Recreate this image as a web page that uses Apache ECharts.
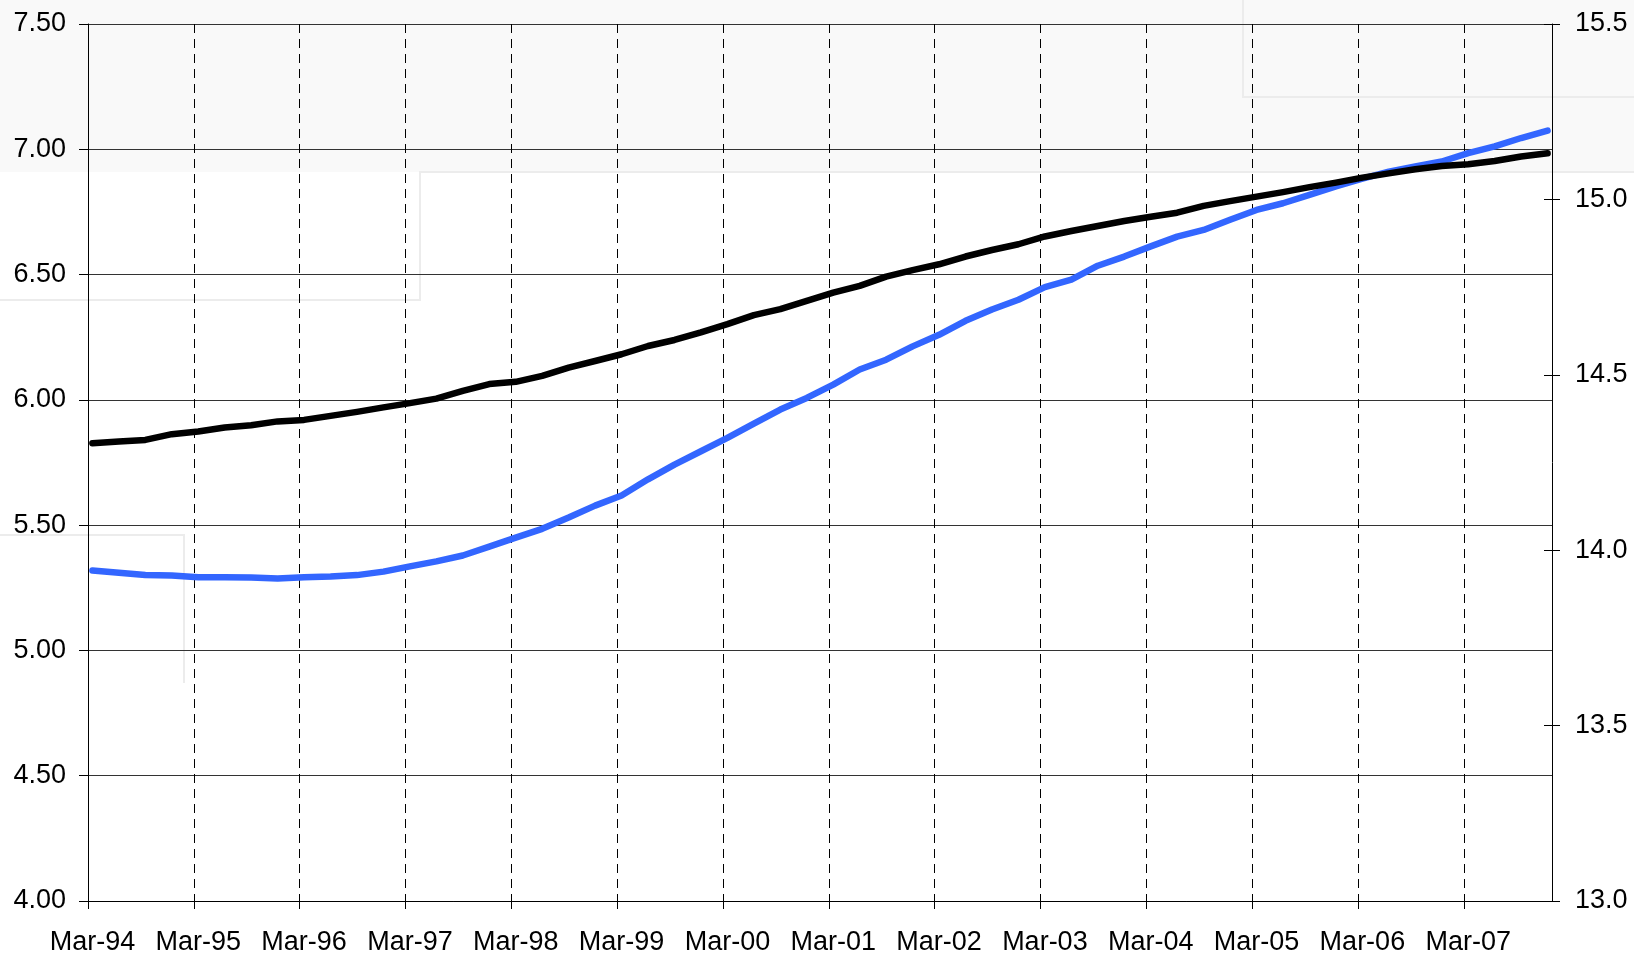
<!DOCTYPE html>
<html>
<head>
<meta charset="utf-8">
<script src="https://cdn.jsdelivr.net/npm/echarts@6/dist/echarts.min.js"></script>
<style>
  html, body { margin: 0; padding: 0; background: #ffffff; }
  #chart { width: 1634px; height: 956px; }
</style>
</head>
<body>
<div id="chart"></div>
<script>
// quarterly series, Mar-94 .. Dec-07
var blackValues = [
  5.827, 5.834, 5.840, 5.863, 5.874, 5.890, 5.899, 5.914, 5.920, 5.936, 5.952, 5.970,
  5.987, 6.005, 6.036, 6.063, 6.072, 6.096, 6.129, 6.155, 6.182, 6.215, 6.239, 6.269,
  6.302, 6.338, 6.362, 6.395, 6.428, 6.455, 6.492, 6.518, 6.541, 6.572, 6.598, 6.621,
  6.652, 6.674, 6.694, 6.714, 6.731, 6.747, 6.774, 6.793, 6.811, 6.829, 6.849, 6.867,
  6.887, 6.904, 6.920, 6.933, 6.940, 6.953, 6.971, 6.984
]
var blueValues = [
  13.942, 13.936, 13.929, 13.928, 13.923, 13.923, 13.922, 13.919, 13.923, 13.925, 13.929, 13.939,
  13.954, 13.968, 13.985, 14.010, 14.036, 14.061, 14.093, 14.127, 14.156, 14.202, 14.244, 14.282,
  14.320, 14.361, 14.401, 14.434, 14.472, 14.515, 14.543, 14.581, 14.614, 14.654, 14.686, 14.714,
  14.750, 14.771, 14.811, 14.837, 14.866, 14.894, 14.913, 14.942, 14.970, 14.989, 15.013, 15.037,
  15.059, 15.079, 15.094, 15.108, 15.132, 15.151, 15.175, 15.196
]
var tickLabels = [
  'Mar-94', 'Mar-95', 'Mar-96', 'Mar-97', 'Mar-98', 'Mar-99', 'Mar-00',
  'Mar-01', 'Mar-02', 'Mar-03', 'Mar-04', 'Mar-05', 'Mar-06', 'Mar-07'
]

// x is months since 1 Mar 1994, points sit mid-month
function toPairs(vals) {
  return vals.map(function (v, i) { return [i * 3 + 0.5, v] })
}
var tickVals = tickLabels.map(function (t, i) { return i * 12 })
var labelVals = tickLabels.map(function (t, i) { return i * 12 + 0.5 })

var font = { fontFamily: 'Liberation Sans, Arial, sans-serif', fontSize: 27, color: '#000' }

var myChart = echarts.init(document.getElementById('chart'))
var option = {
  backgroundColor: '#ffffff',
  animation: false,
  graphic: [
    { type: 'rect', z: -10, shape: { x: 0, y: 0, width: 1634, height: 172 }, style: { fill: '#f9f9f9' } },
    { type: 'polyline', z: -9, shape: { points: [[0, 300], [420, 300], [420, 172], [1634, 172]] }, style: { stroke: '#ececec', lineWidth: 2, fill: null } },
    { type: 'polyline', z: -9, shape: { points: [[1243, 0], [1243, 97], [1634, 97]] }, style: { stroke: '#ececec', lineWidth: 2, fill: null } },
    { type: 'polyline', z: -9, shape: { points: [[0, 535], [184, 535], [184, 683]] }, style: { stroke: '#ececec', lineWidth: 2, fill: null } }
  ],
  grid: { left: 88, right: 82, top: 24, bottom: 54, containLabel: false },
  xAxis: {
    type: 'value',
    min: 0,
    max: 166,
    interval: 12,
    axisLine: { show: true, lineStyle: { color: '#000', width: 1 } },
    axisTick: { show: true, length: 8, customValues: tickVals, lineStyle: { color: '#000' } },
    axisLabel: Object.assign({
      margin: 28,
      customValues: labelVals,
      formatter: function (v) { return tickLabels[Math.round((v - 0.5) / 12)] || '' }
    }, font),
    splitLine: { show: true, lineStyle: { color: '#000', type: [9, 6], width: 1 } }
  },
  yAxis: [
    {
      type: 'value', position: 'left', min: 4, max: 7.5, interval: 0.5,
      axisLine: { show: true, lineStyle: { color: '#000' } },
      axisTick: { show: true, length: 9, lineStyle: { color: '#000' } },
      axisLabel: Object.assign({ margin: 22, formatter: function (v) { return v.toFixed(2) } }, font),
      splitLine: { show: true, lineStyle: { color: '#333', width: 1 } }
    },
    {
      type: 'value', position: 'right', min: 13, max: 15.5, interval: 0.5,
      axisLine: { show: true, lineStyle: { color: '#000' } },
      axisTick: { show: true, length: 8, lineStyle: { color: '#000' } },
      axisLabel: Object.assign({ margin: 23, formatter: function (v) { return v.toFixed(1) } }, font),
      splitLine: { show: false }
    },
    {
      // inner half of the right-axis ticks
      type: 'value', position: 'right', min: 13, max: 15.5, interval: 0.5,
      axisLine: { show: false },
      axisTick: { show: true, inside: true, length: 8, lineStyle: { color: '#000' } },
      axisLabel: { show: false },
      splitLine: { show: false }
    }
  ],
  series: [
    {
      name: 'black',
      type: 'line',
      yAxisIndex: 0,
      data: toPairs(blackValues),
      showSymbol: false,
      lineStyle: { color: '#000000', width: 6.5, cap: 'round', join: 'round' },
      z: 3
    },
    {
      name: 'blue',
      type: 'line',
      yAxisIndex: 1,
      data: toPairs(blueValues),
      showSymbol: false,
      lineStyle: { color: '#3366ff', width: 6.5, cap: 'round', join: 'round' },
      z: 2
    }
  ]
}
myChart.setOption(option)
</script>
</body>
</html>
